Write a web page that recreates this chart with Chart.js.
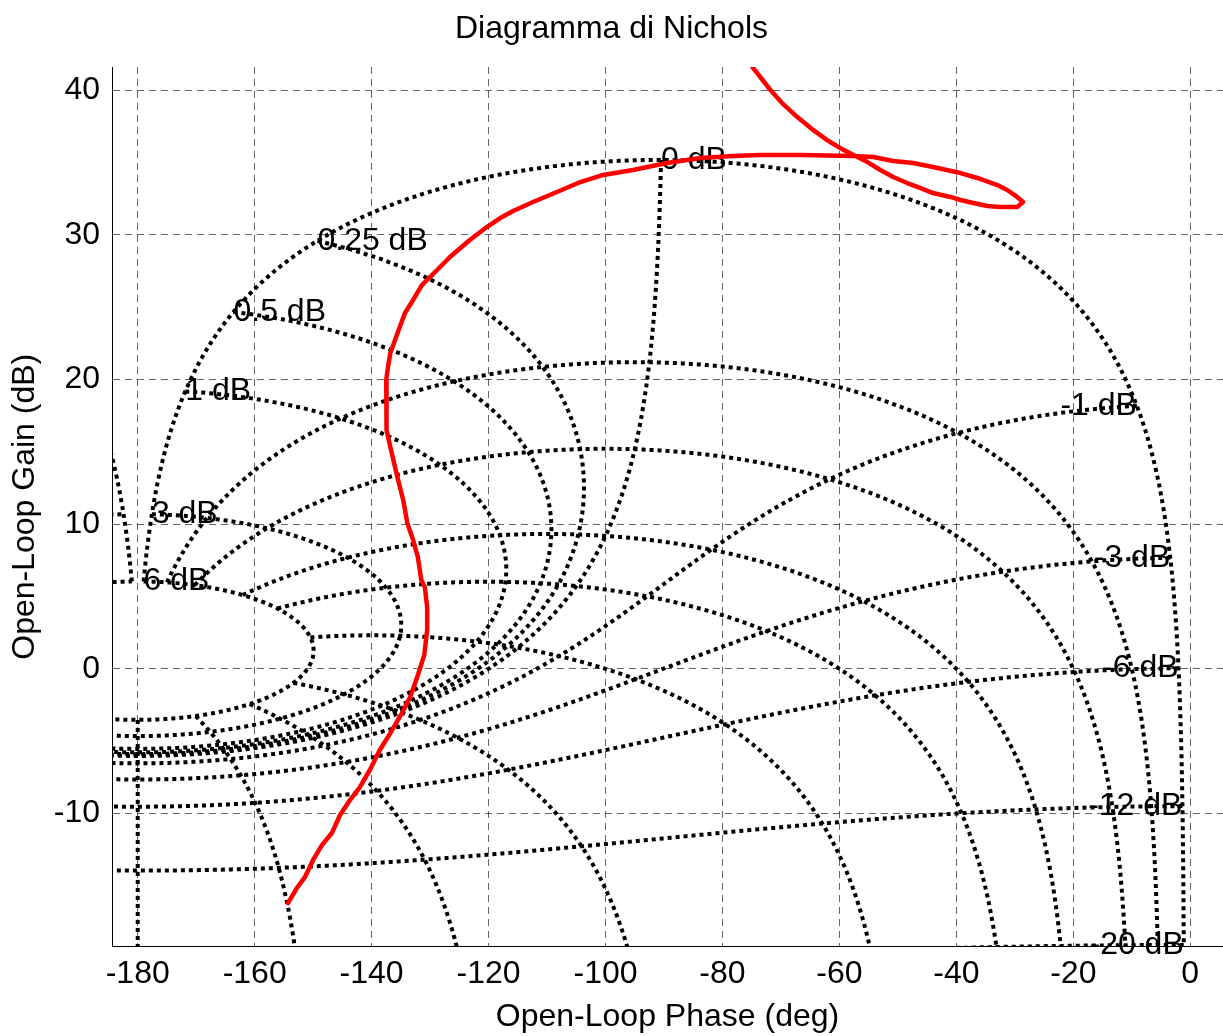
<!DOCTYPE html>
<html>
<head>
<meta charset="utf-8">
<script src="https://cdn.jsdelivr.net/npm/chart.js@4.4.0/dist/chart.umd.min.js"></script>
<style>
html,body{margin:0;padding:0;background:#ffffff;}
#wrap{width:1223px;height:1036px;}
</style>
</head>
<body>
<div id="wrap"><canvas id="c" width="1223" height="1036"></canvas></div>
<script>
// ---- tick labels ----
const phaseTicks = [-180, -160, -140, -120, -100, -80, -60, -40, -20, 0];
const gainTicks = [-10, 0, 10, 20, 30, 40];

// ---- Nichols grid parameters (closed-loop gain contours and closed-loop phase lines) ----
const closedLoopGainDb = [6, 3, 1, 0.5, 0.25, 0, -1, -3, -6, -12, -20, -40];
const labeledGainDb = [6, 3, 1, 0.5, 0.25, 0, -1, -3, -6, -12, -20];
const closedLoopPhaseDeg = [-1, -5, -10, -20, -30, -50, -90, -120, -150, -180,
                            -210, -240, -270, -310, -330, -340, -350, -355, -359];

// ---- open-loop response ----
const responsePhaseDeg = [
  -74.9, -71.8, -69.8, -67.2, -64.5, -62.1, -59.9, -57.6, -55.2, -53.0,
  -50.8, -48.4, -46.2, -44.0, -41.0, -39.3, -37.1, -34.7, -32.5, -29.6,
  -28.6, -29.6, -31.3, -33.0, -36.4, -39.3, -44.0, -47.4, -50.8, -54.2,
  -57.6, -66.7, -73.5, -78.2, -83.8, -89.5, -95.3, -100.4, -104.3, -108.3,
  -112.4, -115.8, -118.0, -120.3, -123.2, -126.6, -128.8, -131.4, -132.9, -134.3,
  -135.5, -136.8, -137.2, -137.5, -137.5, -137.4, -136.8, -135.6, -134.6, -133.9,
  -132.9, -132.1, -131.5, -130.9, -130.5, -130.5, -131.0, -132.2, -133.4, -134.8,
  -136.8, -138.6, -140.3, -142.0, -143.7, -145.4, -146.8, -148.5, -150.0, -151.4,
  -152.8, -154.3
];
const responseGainDb = [
  41.6, 40.0, 39.1, 38.13, 37.24, 36.54, 35.99, 35.51, 35.02, 34.47,
  33.99, 33.57, 33.23, 32.88, 32.61, 32.40, 32.19, 31.98, 31.91, 31.91,
  32.26, 32.61, 33.09, 33.43, 33.92, 34.26, 34.68, 34.96, 35.09, 35.37,
  35.44, 35.51, 35.51, 35.44, 35.30, 34.96, 34.47, 34.13, 33.64, 32.95,
  32.26, 31.64, 31.15, 30.53, 29.63, 28.46, 27.56, 26.52, 25.49, 24.59,
  23.28, 21.82, 20.86, 19.96, 17.89, 16.50, 15.33, 13.26, 11.67, 10.08,
  8.90, 7.73, 6.14, 5.65, 4.27, 2.68, 0.95, -0.57, -1.95, -3.05,
  -4.44, -5.61, -6.99, -8.17, -9.07, -10.10, -11.35, -12.18, -13.21, -14.39,
  -15.15, -16.19
];

const FONT = "'Liberation Sans', Arial, Helvetica, sans-serif";

// open-loop point (phase, gain) for a closed-loop gain (dB) and closed-loop phase (deg)
function openLoopPoint(mDb, thDeg) {
  const m = Math.pow(10, mDb / 20);
  const th = thDeg * Math.PI / 180;
  const tr = m * Math.cos(th), ti = m * Math.sin(th);
  const dr = 1 - tr, di = -ti;
  const mag = m / Math.hypot(dr, di);
  const ph = thDeg - Math.atan2(di, dr) * 180 / Math.PI;
  return { x: ph, y: 20 * Math.log10(mag) };
}

// sampling of the grid curves (closed-loop phase along gain contours, closed-loop gain along phase lines)
const firstPhase = closedLoopPhaseDeg[0], lastPhase = closedLoopPhaseDeg[closedLoopPhaseDeg.length - 1];
const contourPhaseSamples = [];
for (let k = 0; firstPhase - k * 0.25 >= lastPhase; k++) contourPhaseSamples.push(firstPhase - k * 0.25);
const topGain = closedLoopGainDb[0], bottomGain = closedLoopGainDb[closedLoopGainDb.length - 1];
const lineGainSamples = [];
for (let k = 0; k <= 5500; k++) lineGainSamples.push(topGain - k * 0.001);          // 6 .. 0.5 dB
for (let k = 1; k <= 1000; k++) lineGainSamples.push(0.5 - k * 0.001);           // 0.5 .. -0.5 dB (fine)
for (let k = 1; k <= 3950; k++) lineGainSamples.push(-0.5 - k * 0.01);            // -0.5 .. -40 dB
if (lineGainSamples[lineGainSamples.length - 1] > bottomGain) lineGainSamples.push(bottomGain);

const gridStyle = {
  showLine: true, borderColor: '#000000', borderWidth: 4, borderDash: [4, 4],
  pointRadius: 0, pointHoverRadius: 0, fill: false, tension: 0, clip: 0, order: 1
};

const datasets = [];
datasets.push({
  label: 'response',
  data: responsePhaseDeg.map((p, i) => ({ x: p, y: responseGainDb[i] })),
  showLine: true, borderColor: '#ff0000', borderWidth: 4.5,
  pointRadius: 0, pointHoverRadius: 0, fill: false, tension: 0, clip: 0, order: 0,
  borderJoinStyle: 'round', borderCapStyle: 'round'
});
// constant closed-loop gain contours
closedLoopGainDb.forEach(m => {
  datasets.push(Object.assign({ label: 'M ' + m, data: contourPhaseSamples.map(t => openLoopPoint(m, t)) }, gridStyle));
});
// constant closed-loop phase lines
closedLoopPhaseDeg.forEach(t => {
  datasets.push(Object.assign({ label: 'N ' + t, data: lineGainSamples.map(m => openLoopPoint(m, t)) }, gridStyle));
});

const labelPlugin = {
  id: 'gridLabels',
  beforeDatasetDraw(chart, args) {
    if (args.index !== 0) return;
    const ctx = chart.ctx, xs = chart.scales.x, ys = chart.scales.y;
    ctx.save();
    ctx.font = '32px ' + FONT;
    ctx.fillStyle = '#000000';
    ctx.textBaseline = 'middle';
    labeledGainDb.forEach(m => {
      const p = openLoopPoint(m, closedLoopPhaseDeg[0]);
      ctx.textAlign = m >= 0 ? 'left' : 'right';
      ctx.fillText(m + ' dB', xs.getPixelForValue(p.x), ys.getPixelForValue(p.y));
    });
    ctx.restore();
  }
};

new Chart(document.getElementById('c'), {
  type: 'scatter',
  data: { datasets },
  plugins: [labelPlugin],
  options: {
    responsive: false, animation: false, devicePixelRatio: 1,
    layout: { padding: 0 },
    events: [],
    plugins: {
      legend: { display: false },
      tooltip: { enabled: false },
      title: {
        display: true, text: 'Diagramma di Nichols', color: '#000000',
        font: { family: FONT, size: 32, weight: 'normal' },
        padding: { top: 10, bottom: 18.6 }
      }
    },
    scales: {
      x: {
        type: 'linear', position: 'bottom', min: -184.4, max: 5.6,
        afterBuildTicks: s => { s.ticks = phaseTicks.map(v => ({ value: v })); },
        afterFit: s => { s.height = 89.5; },
        ticks: { color: '#000000', font: { family: FONT, size: 32 }, padding: 8,
                 maxRotation: 0, autoSkip: false, callback: v => String(v) },
        grid: { color: 'rgba(0,0,0,0.6)', lineWidth: 1, drawTicks: false },
        border: { display: true, color: '#000000', width: 1, dash: [7, 5] },
        title: { display: true, text: 'Open-Loop Phase (deg)', color: '#000000',
                 font: { family: FONT, size: 32 }, padding: { top: 0, bottom: 0 } }
      },
      y: {
        type: 'linear', position: 'left', min: -19.19, max: 41.59,
        afterBuildTicks: s => { s.ticks = gainTicks.map(v => ({ value: v })); },
        afterFit: s => { s.width = 112; },
        ticks: { color: '#000000', font: { family: FONT, size: 32 }, padding: 12,
                 autoSkip: false, callback: v => String(v) },
        grid: { color: 'rgba(0,0,0,0.6)', lineWidth: 1, drawTicks: false },
        border: { display: true, color: '#000000', width: 1, dash: [7, 5] },
        title: { display: true, text: 'Open-Loop Gain (dB)', color: '#000000',
                 font: { family: FONT, size: 32 }, padding: { top: 6, bottom: 0 } }
      }
    }
  }
});
</script>
</body>
</html>
